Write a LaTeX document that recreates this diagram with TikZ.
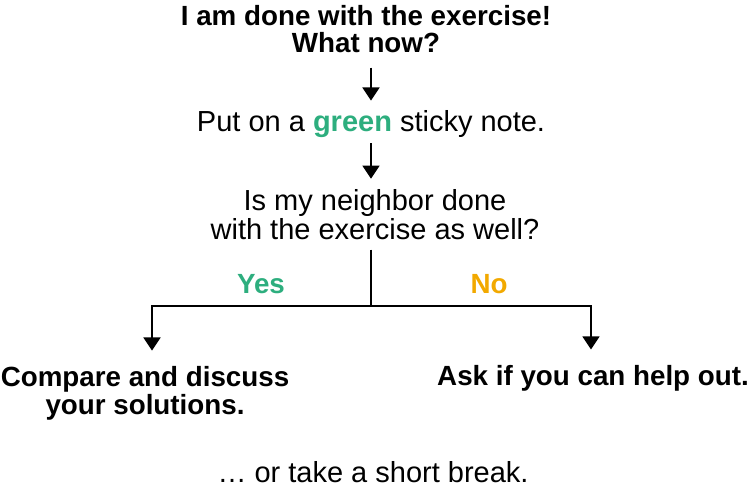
\documentclass[tikz,border=0pt]{standalone}
\usepackage{fontspec}
\setmainfont{Liberation Sans}
\definecolor{YesGreen}{HTML}{2DAE7E}
\definecolor{NoAmber} {HTML}{F2A900}
\usetikzlibrary{arrows.meta}

\begin{document}
\begin{tikzpicture}[
  x=0.02cm,y=-0.02cm,
  lead/.style={font=\bfseries\fontsize{15.8}{15.9}\selectfont,
    align=center,inner sep=0pt,anchor=base},
  plain/.style={font=\fontsize{16.5}{17}\selectfont,
    align=center,inner sep=0pt,anchor=base},
  answer/.style={font=\bfseries\fontsize{15.8}{15.9}\selectfont,
    inner sep=0pt,anchor=base},
  arr/.style={-{Triangle[width=9.5pt,length=7.5pt]},line width=1.6pt},
  link/.style={line width=1.6pt}]
  \useasboundingbox (0,0) rectangle (750,496);
  \node[lead](done) at (366,53) {I am done with the exercise!\\What now?};
  \node[plain](sticky) at (371,132)
    {Put on a \textbf{\color{YesGreen}green} sticky note.};
  \node[plain](neigh) at (375,240)
    {Is my neighbor done\\with the exercise as well?};
  \coordinate (fork) at (371,306);
  \coordinate (yesend) at (152,306);
  \coordinate (noend) at (591,306);
  \node[answer,YesGreen](yes) at (261,294) {Yes};
  \node[answer,NoAmber](no) at (489,294) {No};
  \node[lead](compare) at (145,414) {Compare and discuss\\your solutions.};
  \node[lead](help) at (593,385) {Ask if you can help out.};
  \node[plain](pause) at (373,482) {\dots\ or take a short break.};
  % Connectors
  \draw[arr,shorten <=0.28cm,shorten >=0.2cm]
    (done.south -| fork) -- (sticky.north -| fork);
  \draw[arr,shorten <=0.1cm,shorten >=0.2cm]
    (sticky.south -| fork) -- (neigh.north -| fork);
  \draw[link,shorten <=0.18cm] (neigh.south -| fork) -- (fork);
  \draw[arr,shorten >=0.3cm] (fork) -- (yesend) -- (yesend |- compare.north);
  \draw[arr,shorten >=0.3cm] (fork) -- (noend) -- (noend |- help.north);
\end{tikzpicture}
\end{document}
